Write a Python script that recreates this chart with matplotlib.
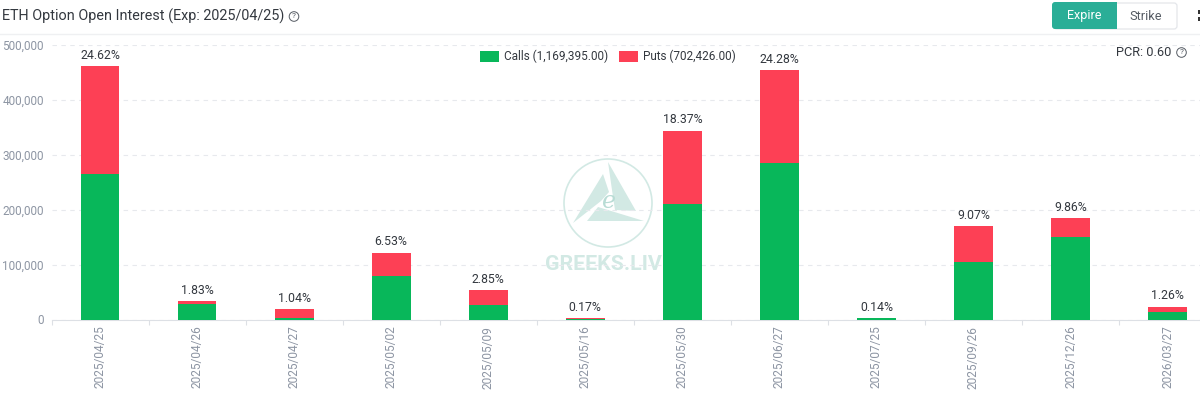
import matplotlib
matplotlib.use("Agg")
import matplotlib.pyplot as plt
from matplotlib.patches import Circle, FancyBboxPatch, Polygon, Rectangle

plt.rcParams['font.family'] = ['Roboto', 'DejaVu Sans']

expiries = ['2025/04/25', '2025/04/26', '2025/04/27', '2025/05/02', '2025/05/09', '2025/05/16',
            '2025/05/30', '2025/06/27', '2025/07/25', '2025/09/26', '2025/12/26', '2026/03/27']
calls = [265000, 29000, 3500, 80000, 26000, 1000, 210000, 285000, 2200, 104000, 150000, 14000]
puts = [196000, 5000, 16000, 42000, 27000, 2200, 134000, 169000, 400, 66000, 34500, 9600]
shares = ['24.62%', '1.83%', '1.04%', '6.53%', '2.85%', '0.17%', '18.37%', '24.28%', '0.14%', '9.07%', '9.86%', '1.26%']
yticks = [0, 100000, 200000, 300000, 400000, 500000]

GREEN = '#08B75A'
RED = '#FD4055'
GREY = '#8D95A3'
GRID = '#E7E9ED'
DARK = '#33383F'
TEAL = '#2AAE97'
WATER = '#D2E9E4'

W, H = 1200, 395
fig = plt.figure(figsize=(W / 100, H / 100), dpi=100)

# pixel overlay behind the chart for the header and the watermark
bg = fig.add_axes([0, 0, 1, 1], zorder=0)
bg.set_xlim(0, W)
bg.set_ylim(H, 0)
bg.axis('off')

ax = fig.add_axes([51.5 / W, (H - 319.5) / H, (W - 51.5) / W, 274.5 / H], zorder=1)
ax.patch.set_alpha(0)
x = list(range(len(expiries)))
ax.bar(x, calls, width=0.4, color=GREEN, label='Calls (1,169,395.00)', zorder=3)
ax.bar(x, puts, width=0.4, bottom=calls, color=RED, label='Puts (702,426.00)', zorder=3)

for i in x:
    ax.annotate(shares[i], (i, calls[i] + puts[i]), xytext=(0, 3), textcoords='offset points',
                ha='center', va='bottom', fontsize=8.8, color=DARK, zorder=4)

ax.set_ylim(0, 500000)
ax.set_yticks(yticks)
ax.set_yticklabels([f'{v:,}' for v in yticks], fontsize=8.5, color=GREY)
ax.set_xticks(x)
ax.set_xticklabels(expiries, rotation=90, fontsize=8.6, color=GREY)
ax.tick_params(axis='y', length=0, pad=5.5)
ax.tick_params(axis='x', length=0, pad=4.5)
# ticks sit on the category edges, not the bars
ax.set_xticks([i - 0.5 for i in range(len(expiries))], minor=True)
ax.tick_params(axis='x', which='minor', length=3.5, color='#DDE0E5', width=0.8)
# xlim last, set_xticks would widen it otherwise
ax.set_xlim(-0.5, (W - 51.5) / 97.05 - 0.5)
ax.grid(axis='y', color=GRID, linestyle=(0, (4, 4)), linewidth=0.8, zorder=0)
ax.set_axisbelow(True)
for side in ['top', 'right', 'left']:
    ax.spines[side].set_visible(False)
ax.spines['bottom'].set_color('#DDE0E5')

leg = ax.legend(loc='upper left', bbox_to_anchor=((469 - 51.5) / (W - 51.5), 1.02), ncol=2, frameon=False,
                fontsize=8.45, handlelength=1.62, handleheight=0.95, handletextpad=0.5, columnspacing=0.85)
for t in leg.get_texts():
    t.set_color(DARK)

# title row
bg.text(2, 16, 'ETH Option Open Interest (Exp: 2025/04/25)', fontsize=10.4, color=DARK, va='center', ha='left')
bg.plot([0, W], [34, 34], color='#EFF0F2', linewidth=1)


def help_icon(cx, cy):
    bg.add_patch(Circle((cx, cy), 4.8, fill=False, edgecolor='#555B63', linewidth=0.7))
    bg.text(cx, cy, '?', fontsize=6, color='#555B63', ha='center', va='center')


help_icon(294, 16.5)
help_icon(1181.5, 52.5)
bg.text(1116, 52.5, 'PCR: 0.60', fontsize=9.2, color=DARK, ha='left', va='center')

# Expire / Strike toggle
bg.add_patch(FancyBboxPatch((1054, 3), 123, 26, boxstyle='round,pad=0,rounding_size=3',
                            facecolor='white', edgecolor='#E4E6EA', linewidth=0.9))
bg.add_patch(FancyBboxPatch((1052, 2), 65, 27, boxstyle='round,pad=0,rounding_size=3',
                            facecolor=TEAL, edgecolor=TEAL, linewidth=0))
bg.add_patch(Rectangle((1109, 2), 8, 27, facecolor=TEAL, edgecolor='none'))
bg.text(1084, 16, 'Expire', fontsize=9, color='white', ha='center', va='center')
bg.text(1146, 16, 'Strike', fontsize=9.2, color='#555B63', ha='center', va='center')
for yy in [11, 18.5]:
    bg.add_patch(Rectangle((1197.5, yy - 1.5), 2.5, 4, facecolor='#333333', edgecolor='none'))

# watermark
bg.add_patch(Circle((608, 203), 44, fill=False, edgecolor=WATER, linewidth=1.2))
bg.add_patch(Polygon([(573, 223), (603, 174), (609, 192), (601, 201)], facecolor=WATER, edgecolor='none'))
bg.add_patch(Polygon([(608, 162), (636, 211), (615, 210), (612, 190)], facecolor=WATER, edgecolor='none'))
bg.add_patch(Polygon([(587, 221), (598, 207), (644, 221)], facecolor=WATER, edgecolor='none'))
bg.text(609, 201, 'e', fontsize=17, style='italic', family='DejaVu Serif', color='#B9DCD5', ha='center', va='center')
bg.text(545, 265, 'GREEKS.LIV', fontsize=15.4, fontweight='bold', color=WATER, ha='left', va='center')

fig.savefig('out.png', dpi=100)
